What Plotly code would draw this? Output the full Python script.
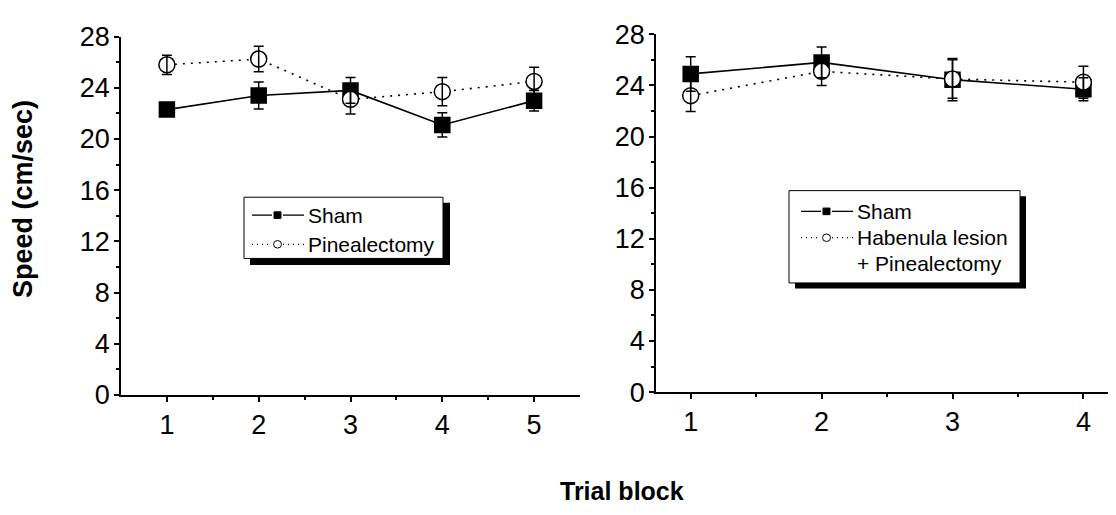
import plotly.graph_objects as go

W, H = 1116, 515
OFF = 8  # default page body margin

# ---------------- data ----------------
trial_left = [1, 2, 3, 4, 5]
sham_left = [22.3, 23.4, 23.8, 21.1, 23.0]
sham_left_err = [0.5, 1.05, 1.0, 0.95, 0.8]
pineal_left = [25.8, 26.25, 23.1, 23.7, 24.5]
pineal_left_err = [0.75, 1.0, 1.15, 1.1, 1.1]

trial_right = [1, 2, 3, 4]
sham_right = [24.9, 25.8, 24.45, 23.7]
sham_right_err = [1.35, 1.2, 1.65, 0.9]
hab_right = [23.2, 25.1, 24.5, 24.25]
hab_right_err = [1.25, 1.1, 1.5, 1.25]

legend_left = ["Sham", "Pinealectomy"]
legend_right = ["Sham", "Habenula lesion", "+ Pinealectomy"]
x_title = "Trial block"
y_title = "Speed (cm/sec)"

FONT = "Liberation Sans, Arial, sans-serif"


def px(x):
    return (x - OFF) / W


def py(y):
    return 1 - (y - OFF) / H


fig = go.Figure()


def add_series(x, y, xa, ya, symbol, fill, dash):
    fig.add_trace(go.Scatter(
        x=x, y=y, xaxis=xa, yaxis=ya, mode="lines+markers",
        line=dict(color="black", width=1.6, dash=dash),
        marker=dict(symbol=symbol, size=15 if symbol == "square" else 16,
                    color=fill, line=dict(color="black", width=1.5)),
        showlegend=False, hoverinfo="skip"))


def add_err(x, y, e, xa, ya):
    fig.add_trace(go.Scatter(
        x=x, y=y, xaxis=xa, yaxis=ya, mode="markers",
        marker=dict(size=1, color="rgba(0,0,0,0)"),
        error_y=dict(type="data", array=e, visible=True, color="black",
                     thickness=1.5, width=5),
        showlegend=False, hoverinfo="skip"))


add_series(trial_left, sham_left, "x", "y", "square", "black", "solid")
add_series(trial_left, pineal_left, "x", "y", "circle", "white", "2px,6px")
add_err(trial_left, sham_left, sham_left_err, "x", "y")
add_err(trial_left, pineal_left, pineal_left_err, "x", "y")

add_series(trial_right, sham_right, "x2", "y2", "square", "black", "solid")
add_series(trial_right, hab_right, "x2", "y2", "circle", "white", "2px,6px")
add_err(trial_right, sham_right, sham_right_err, "x2", "y2")
add_err(trial_right, hab_right, hab_right_err, "x2", "y2")

axis_common = dict(showline=True, linecolor="black", linewidth=1.5,
                   ticks="outside", ticklen=5, tickwidth=1.5, tickcolor="black",
                   showgrid=False, zeroline=False, ticklabeloverflow="allow",
                   tickfont=dict(family=FONT, size=27, color="black"))
minor_common = dict(ticks="outside", ticklen=3, tickwidth=1.5, tickcolor="black")

fig.update_layout(
    width=W, height=H,
    margin=dict(l=0, r=0, t=0, b=0),
    paper_bgcolor="white", plot_bgcolor="white",
    showlegend=False,
    xaxis=dict(domain=[px(121), px(580)], range=[0.5, 5.5], tickvals=trial_left,
               anchor="y", minor=dict(tickvals=[1.5, 2.5, 3.5, 4.5], **minor_common),
               **axis_common),
    yaxis=dict(domain=[py(403), py(22.5)], range=[0, 28], dtick=4, anchor="x",
               ticklabelstandoff=-1, minor=dict(dtick=2, **minor_common),
               **axis_common),
    xaxis2=dict(domain=[px(656), 1.0], range=[0.735, 4.31], tickvals=trial_right,
                anchor="y2", minor=dict(tickvals=[1.5, 2.5, 3.5], **minor_common),
                **axis_common),
    yaxis2=dict(domain=[py(400), py(20)], range=[0, 28], dtick=4, anchor="x2",
                ticklabelstandoff=-1, minor=dict(dtick=2, **minor_common),
                **axis_common),
)

shapes = []
annotations = []


def rect(x0, y0, x1, y1, fill, line=True):
    shapes.append(dict(type="rect", xref="paper", yref="paper",
                       x0=px(x0), x1=px(x1), y0=py(y1), y1=py(y0),
                       fillcolor=fill,
                       line=dict(color="black", width=1 if line else 0),
                       layer="above"))


def seg(x0, x1, y, dash):
    shapes.append(dict(type="line", xref="paper", yref="paper",
                       x0=px(x0), x1=px(x1), y0=py(y), y1=py(y),
                       line=dict(color="black", width=1.3, dash=dash),
                       layer="above"))


def sym_square(cx, cy, s=7):
    rect(cx - s / 2, cy - s / 2, cx + s / 2, cy + s / 2, "black")


def sym_circle(cx, cy, r=4):
    shapes.append(dict(type="circle", xref="paper", yref="paper",
                       x0=px(cx - r), x1=px(cx + r), y0=py(cy + r), y1=py(cy - r),
                       fillcolor="white", line=dict(color="black", width=1),
                       layer="above"))


def text(x, y, s):
    annotations.append(dict(xref="paper", yref="paper", x=px(x), y=py(y),
                            text=s, showarrow=False, xanchor="left",
                            yanchor="middle",
                            font=dict(family=FONT, size=21, color="black")))


# left legend
rect(250, 199, 450, 265, "black", line=False)
rect(244, 193, 443, 258, "white")
seg(252, 272, 212, "solid"); seg(283, 304, 212, "solid"); sym_square(277.5, 212)
seg(252, 272, 243, "1px,4px"); seg(283, 304, 243, "1px,4px"); sym_circle(277.5, 243)
text(306, 212, legend_left[0])
text(306, 243, legend_left[1])

# right legend
rect(795, 192, 1026, 290, "black", line=False)
rect(789, 186, 1020, 284, "white")
seg(801, 821, 208, "solid"); seg(832, 853, 208, "solid"); sym_square(826.5, 208)
seg(801, 821, 236, "1px,4px"); seg(832, 853, 236, "1px,4px"); sym_circle(826.5, 236)
text(855, 208, legend_right[0])
text(855, 236, legend_right[1])
text(855, 263, legend_right[2])

# axis titles
annotations.append(dict(xref="paper", yref="paper", x=px(23), y=py(195),
                        text="<b>" + y_title + "</b>", showarrow=False,
                        textangle=-90, xanchor="center", yanchor="middle",
                        font=dict(family=FONT, size=27, color="black")))
annotations.append(dict(xref="paper", yref="paper", x=px(622), y=py(505),
                        text="<b>" + x_title + "</b>", showarrow=False,
                        xanchor="center", yanchor="middle",
                        font=dict(family=FONT, size=25, color="black")))

fig.update_layout(shapes=shapes, annotations=annotations)

fig.write_html("out.html")
